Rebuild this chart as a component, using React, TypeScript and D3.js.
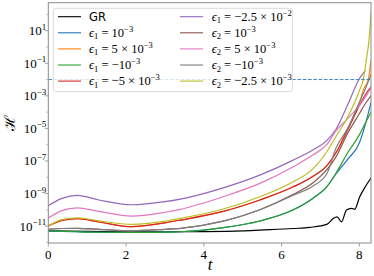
import React from 'react';
import * as d3 from 'd3';

// time grid shared by most runs
const T = [0, 0.35, 0.75, 1.3, 2.15, 3.0, 3.4, 4.5, 5.44, 6.3, 6.8, 7.16, 7.4, 7.7, 8.0, 8.15, 8.3];

// log10 of H
const tGR = [0, 1, 2, 3, 4, 5, 5.44, 6.3, 6.73, 7.16, 7.33, 7.43, 7.54, 7.67, 7.8, 7.88, 8.01, 8.15, 8.3];
const hGR = [-11.3, -11.33, -11.35, -11.35, -11.34, -11.3, -11.25, -11.15, -11.08, -10.9, -10.53, -10.43, -10.74, -10.02, -9.91, -9.97, -9.2, -8.6, -8.05];

const hE1p1 = [-11.29, -11.32, -11.35, -11.38, -11.39, -11.37, -11.35, -11.1, -10.69, -10.0, -9.3, -8.59, -7.8, -6.9, -5.9, -4.8, -3.4];
const tE1p5 = [0, 0.35, 0.75, 1.3, 2.15, 3.0, 3.4, 4.5, 5.44, 6.3, 6.8, 7.16, 7.4, 7.7, 8.0, 8.1, 8.23, 8.3];
const hE1p5 = [-11.0, -10.65, -10.55, -10.75, -11.04, -10.8, -10.63, -10.1, -9.4, -8.59, -7.95, -7.3, -6.5, -5.0, -3.5, -2.65, -2.0, -0.8];
const hE1m1 = [-11.29, -11.32, -11.35, -11.38, -11.39, -11.37, -11.35, -11.1, -10.69, -10.0, -9.3, -8.59, -7.75, -6.5, -5.4, -4.7, -4.0];
const hE1m5 = [-11.0, -10.65, -10.55, -10.75, -11.04, -10.8, -10.63, -10.1, -9.4, -8.59, -7.95, -7.3, -6.5, -5.1, -3.6, -2.95, -2.45];
const tE1m25 = [0, 0.35, 0.75, 1.3, 2.15, 3.0, 3.4, 4.5, 5.44, 6.3, 6.8, 7.16, 7.4, 7.7, 8.0, 8.15];
const hE1m25 = [-9.75, -9.3, -9.11, -9.4, -9.69, -9.5, -9.34, -8.65, -7.87, -6.95, -6.33, -5.75, -5.05, -3.55, -1.95, -1.45];
const hE2p1 = [-11.2, -11.15, -11.14, -11.2, -11.29, -11.2, -11.14, -10.7, -10.0, -9.05, -8.35, -7.55, -6.75, -5.3, -4.1, -3.5, -3.0];
const hE2p5 = [-10.51, -10.05, -9.88, -10.1, -10.39, -10.15, -9.97, -9.2, -8.38, -7.36, -6.64, -6.0, -5.15, -4.4, -3.6, -3.1, -2.5];
const hE2m1 = [-11.2, -11.15, -11.14, -11.2, -11.29, -11.2, -11.14, -10.7, -10.0, -9.1, -8.55, -7.8, -6.2, -5.0, -3.4, -2.6, -1.7];
const tE2m25 = [0, 0.35, 0.75, 1.3, 2.15, 3.0, 3.4, 4.5, 5.44, 6.3, 6.8, 7.16, 7.4, 7.7, 8.0, 8.1, 8.18, 8.25, 8.3];
const hE2m25 = [-11.0, -10.6, -10.49, -10.68, -10.9, -10.7, -10.53, -9.95, -9.2, -8.28, -7.5, -6.45, -5.5, -4.3, -2.7, -2.0, -0.8, 0.45, 2.1];

const threshold = 1e-2;

const xTicks = [0, 2, 4, 6, 8];
const yTickExps = [1, -1, -3, -5, -7, -9, -11];
const yMinorExps = [2, 0, -2, -4, -6, -8, -10, -12];

// legend: sub index, prefix, exponent
const runs = [
  { name: 'GR', t: tGR, h: hGR, color: '#000000' },
  { sub: '1', pre: '', exp: '−3', t: T, h: hE1p1, color: '#1f77b4' },
  { sub: '1', pre: '5 × ', exp: '−3', t: tE1p5, h: hE1p5, color: '#ff7f0e' },
  { sub: '1', pre: '−', exp: '−3', t: T, h: hE1m1, color: '#2ca02c' },
  { sub: '1', pre: '−5 × ', exp: '−3', t: T, h: hE1m5, color: '#d62728' },
  { sub: '1', pre: '−2.5 × ', exp: '−2', t: tE1m25, h: hE1m25, color: '#9467bd' },
  { sub: '2', pre: '', exp: '−3', t: T, h: hE2p1, color: '#8c564b' },
  { sub: '2', pre: '5 × ', exp: '−3', t: T, h: hE2p5, color: '#e377c2' },
  { sub: '2', pre: '−', exp: '−3', t: T, h: hE2m1, color: '#7f7f7f' },
  { sub: '2', pre: '−2.5 × ', exp: '−3', t: tE2m25, h: hE2m25, color: '#bcbd22' },
];

const W = 374, H = 276;
const left = 48.3, right = 371, top = 2.7, bottom = 243;
const serif = '"Liberation Serif", "DejaVu Serif", serif';

export default function App() {
  const x = d3.scaleLinear().domain([0, 8.3]).range([left, right]);
  const y = d3.scaleLog().domain([Math.pow(10, -12.04), Math.pow(10, 2.72)]).range([bottom, top]);

  const line = d3.line<[number, number]>()
    .x(d => x(d[0]))
    .y(d => y(Math.pow(10, d[1])))
    .curve(d3.curveMonotoneX);

  const legendRow = (r: any, i: number) => {
    const col = i < 5 ? 0 : 1;
    const row = i % 5;
    const lx = col === 0 ? 58 : 180;
    const tx = col === 0 ? 89 : 211.7;
    const ly = 16.7 + row * 16.1;
    return (
      <g key={i}>
        <line x1={lx} x2={lx + 23} y1={ly} y2={ly} stroke={r.color} strokeWidth={1.1} />
        {r.name ? (
          <text x={tx} y={ly + 4.5} fontFamily='"DejaVu Sans", sans-serif' fontSize={11.5} fill="#000">{r.name}</text>
        ) : (
          <text x={tx} y={ly + 4} fontFamily={serif} fontSize={12.5} fill="#000">
            <tspan fontStyle="italic">ϵ</tspan>
            <tspan fontSize={8.5} dy={2.5}>{r.sub}</tspan>
            <tspan dy={-2.5}>{' = ' + r.pre + '10'}</tspan>
            <tspan fontSize={8.5} dy={-5}>{r.exp}</tspan>
          </text>
        )}
      </g>
    );
  };

  return (
    <svg width={W} height={H} style={{ position: 'absolute', left: 0, top: 0, background: '#fff' }}>
      <defs>
        <clipPath id="plotArea">
          <rect x={left} y={top} width={right - left} height={bottom - top} />
        </clipPath>
      </defs>

      <g clipPath="url(#plotArea)">
        {runs.map((r, i) => (
          <path key={i}
            d={line(r.t.map((t, j) => [t, r.h[j]] as [number, number])) || ''}
            fill="none" stroke={r.color} strokeWidth={1.2}
            strokeLinejoin="round" strokeLinecap="round" />
        ))}
        <line x1={left} x2={right} y1={y(threshold)} y2={y(threshold)}
          stroke="#1f77b4" strokeOpacity={0.85} strokeWidth={1} strokeDasharray="3.7,1.6" />
      </g>

      {/* legend */}
      <rect x={53.3} y={8.3} width={239} height={83.4} rx={2.5}
        fill="#fff" fillOpacity={0.8} stroke="#d0d0d0" strokeWidth={0.8} />
      {runs.map(legendRow)}

      {/* spines */}
      <rect x={left} y={top} width={right - left} height={bottom - top}
        fill="none" stroke="#8a8a8a" strokeWidth={1} />

      {/* x axis */}
      {xTicks.map(t => (
        <g key={t}>
          <line x1={x(t)} x2={x(t)} y1={bottom} y2={bottom + 3.5} stroke="#8a8a8a" strokeWidth={0.8} />
          <text x={x(t)} y={bottom + 15.5} textAnchor="middle" fontFamily={serif} fontSize={13}>{t}</text>
        </g>
      ))}

      {/* y axis */}
      {yMinorExps.map(e => {
        const v = y(Math.pow(10, e));
        if (v < top || v > bottom) return null;
        return <line key={'m' + e} x1={left - 2} x2={left} y1={v} y2={v} stroke="#8a8a8a" strokeWidth={0.6} />;
      })}
      {yTickExps.map(e => {
        const v = y(Math.pow(10, e));
        const exp = e < 0 ? '−' + Math.abs(e) : String(e);
        return (
          <g key={e}>
            <line x1={left - 3.5} x2={left} y1={v} y2={v} stroke="#8a8a8a" strokeWidth={0.8} />
            <text x={left - 2} y={v + 4.5} textAnchor="end" fontFamily={serif} fontSize={13}>
              <tspan>10</tspan>
              <tspan fontSize={9} dy={-5.5}>{exp}</tspan>
            </text>
          </g>
        );
      })}

      {/* axis labels */}
      <text x={210} y={270} textAnchor="middle" fontFamily={serif} fontStyle="italic" fontSize={17}>t</text>
      <text transform={`translate(15,${(top + bottom) / 2}) rotate(-90)`} textAnchor="middle"
        fontFamily='"DejaVu Serif", serif' fontSize={15}>ℋ</text>
    </svg>
  );
}
